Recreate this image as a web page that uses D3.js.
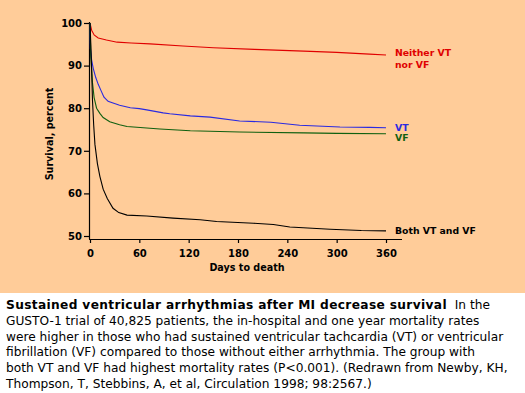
<!DOCTYPE html>
<html>
<head>
<meta charset="utf-8">
<script src="https://cdn.jsdelivr.net/npm/d3@7"></script>
<style>
  body { margin: 0; background: #fff; }
  svg { display: block; }
  .tick text { font-family: 'DejaVu Sans', sans-serif; font-weight: bold; font-size: 10px; }
  .axis-label { font-family: 'DejaVu Sans', sans-serif; font-weight: bold; font-size: 9.6px; }
  .series-label { font-family: 'DejaVu Sans', sans-serif; font-weight: bold; font-size: 9.3px; }
  .caption { font-family: 'DejaVu Sans', sans-serif; font-size: 12.2px; }
</style>
</head>
<body>
<svg></svg>
<script>
const MEASURES = { width: 525, height: 393, plotHeight: 293, left: 90, right: 386, top: 23, bottom: 236, axisY: 239 }

// survival curves (day, percent)
const neitherDays = [0, 2, 5, 10, 20, 33, 50, 73, 113, 150, 200, 260, 300, 340, 360]
const neitherVals = [100, 98.3, 97.2, 96.5, 96.0, 95.5, 95.3, 95.1, 94.6, 94.2, 93.8, 93.4, 93.1, 92.7, 92.5]

const vtDays = [0, 0.5, 2, 4, 7, 10, 13, 17, 22, 28, 36, 49, 60, 69, 89, 97, 122, 146, 182, 220, 255, 304, 340, 360]
const vtVals = [100, 94, 91.3, 89.3, 87.2, 85.6, 84.3, 82.6, 81.6, 81.2, 80.7, 80.1, 79.9, 79.6, 78.9, 78.7, 78.2, 77.9, 77.0, 76.7, 76.0, 75.6, 75.5, 75.4]

const vfDays = [0, 1, 3, 5, 8, 12, 16, 24, 36, 45, 85, 122, 182, 260, 300, 360]
const vfVals = [100, 92, 86, 82.5, 80, 78.8, 77.8, 76.8, 76.1, 75.7, 75.1, 74.7, 74.4, 74.2, 74.1, 74.0]

const bothDays = [0, 1, 2, 3, 4.5, 6, 9, 12, 16, 21, 28, 35, 45, 69, 101, 134, 154, 199, 223, 243, 292, 330, 360]
const bothVals = [100, 95, 89, 82, 76, 71.5, 67, 64, 61, 58.8, 56.5, 55.5, 54.9, 54.7, 54.2, 53.8, 53.4, 53.0, 52.7, 52.1, 51.6, 51.3, 51.2]

const seriesColors = ['#e00000', '#2a2ae0', '#106010', '#000000']
const seriesLabels = [['Neither VT', 'nor VF'], ['VT'], ['VF'], ['Both VT and VF']]

const xTicks = [0, 60, 120, 180, 240, 300, 360]
const yTicks = [50, 60, 70, 80, 90, 100]

const captionBold = 'Sustained ventricular arrhythmias after MI decrease survival'
const captionLines = [
  '  In the',
  'GUSTO-1 trial of 40,825 patients, the in-hospital and one year mortality rates',
  'were higher in those who had sustained ventricular tachcardia (VT) or ventricular',
  'fibrillation (VF) compared to those without either arrhythmia. The group with',
  'both VT and VF had highest mortality rates (P<0.001). (Redrawn from Newby, KH,',
  'Thompson, T, Stebbins, A, et al, Circulation 1998; 98:2567.)'
]

const series = [
  neitherDays.map((d, i) => ({ day: d, value: neitherVals[i] })),
  vtDays.map((d, i) => ({ day: d, value: vtVals[i] })),
  vfDays.map((d, i) => ({ day: d, value: vfVals[i] })),
  bothDays.map((d, i) => ({ day: d, value: bothVals[i] }))
]

const canvas = d3.select('svg')
  .attr('width', MEASURES.width)
  .attr('height', MEASURES.height)

canvas.append('rect')
  .attr('width', MEASURES.width)
  .attr('height', MEASURES.plotHeight)
  .attr('fill', '#ffcc99')

const xScale = d3.scaleLinear().domain([0, 360]).range([MEASURES.left, MEASURES.right])
const yScale = d3.scaleLinear().domain([50, 100]).range([MEASURES.bottom, MEASURES.top])

// axes
const xAxis = d3.axisBottom(xScale).tickValues(xTicks).tickSize(4).tickSizeOuter(0)
const xG = canvas.append('g')
  .attr('transform', `translate(0, ${MEASURES.axisY})`)
  .call(xAxis)
xG.select('.domain').attr('d', `M${MEASURES.left - 1},0.5H402`)
xG.selectAll('.tick text').attr('dy', '1.05em')

const yAxis = d3.axisLeft(yScale).tickValues(yTicks).tickSize(5).tickSizeOuter(0)
const yG = canvas.append('g')
  .attr('transform', `translate(${MEASURES.left - 1}, 0)`)
  .call(yAxis)
yG.select('.domain').attr('d', `M0.5,${MEASURES.top - 1}V${MEASURES.axisY}`)
yG.selectAll('.tick text').attr('x', -7)

canvas.selectAll('.domain, .tick line').attr('stroke', '#000').attr('stroke-width', 1.2)

canvas.append('text')
  .attr('class', 'axis-label')
  .attr('x', 247).attr('y', 271)
  .attr('text-anchor', 'middle')
  .text('Days to death')

canvas.append('text')
  .attr('class', 'axis-label')
  .attr('transform', 'translate(53, 134) rotate(-90)')
  .attr('text-anchor', 'middle')
  .text('Survival, percent')

// curves
const line = d3.line().x(d => xScale(d.day)).y(d => yScale(d.value))

canvas.append('g').selectAll('path')
  .data(series)
  .enter()
  .append('path')
  .attr('d', line)
  .attr('fill', 'none')
  .attr('stroke', (d, i) => seriesColors[i])
  .attr('stroke-width', 1.1)

// series labels placed after the last point
const labelOffsets = [1.5, 2.8, 6.8, 3]
const labelG = canvas.append('g')
series.forEach((s, i) => {
  const last = s[s.length - 1]
  const t = labelG.append('text')
    .attr('class', 'series-label')
    .attr('fill', seriesColors[i])
    .attr('y', yScale(last.value) + labelOffsets[i])
  seriesLabels[i].forEach((l, j) => {
    t.append('tspan').attr('x', xScale(last.day) + 9).attr('dy', j === 0 ? 0 : 11.5).text(l)
  })
})

// caption
const caption = canvas.append('text')
  .attr('class', 'caption')
  .attr('x', 6).attr('y', 309)
caption.append('tspan').attr('font-weight', 'bold').attr('letter-spacing', 0.35).text(captionBold)
caption.append('tspan').attr('xml:space', 'preserve').text(captionLines[0])
captionLines.slice(1).forEach((l, i) => {
  canvas.append('text')
    .attr('class', 'caption')
    .attr('x', 6)
    .attr('y', 309 + (i + 1) * 15.8)
    .text(l)
})
</script>
</body>
</html>
